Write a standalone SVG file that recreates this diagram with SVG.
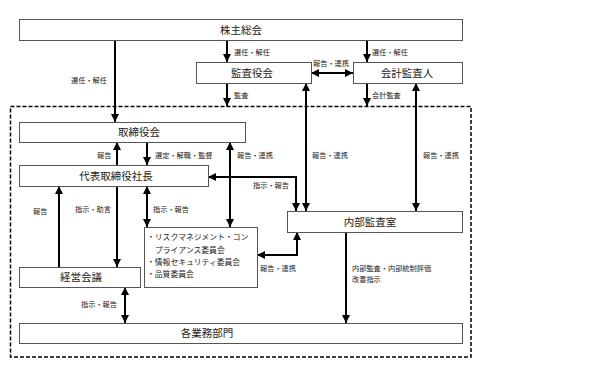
<svg xmlns="http://www.w3.org/2000/svg" width="598" height="366" viewBox="0 0 598 366">
<style>
.box{fill:#fff;stroke:#555;stroke-width:1}
.t{font-family:"Noto Sans CJK JP","Noto Sans",sans-serif;font-size:10.5px;fill:#222;text-anchor:middle}
.l{font-family:"Noto Sans CJK JP","Noto Sans",sans-serif;font-size:7.2px;fill:#222}
.c{font-family:"Noto Sans CJK JP","Noto Sans",sans-serif;font-size:7.8px;fill:#222}
.a{fill:none;stroke:#000;stroke-width:2;marker-end:url(#ah)}
.b{fill:none;stroke:#000;stroke-width:2;marker-end:url(#ah);marker-start:url(#ah)}
</style>
<defs>
<marker id="ah" viewBox="0 0 8 8" refX="8" refY="4" markerWidth="8" markerHeight="8" markerUnits="userSpaceOnUse" orient="auto-start-reverse">
<path d="M0,0 L8,4 L0,8 z" fill="#000"/>
</marker>
</defs>
<rect width="598" height="366" fill="#fff"/>
<rect x="10.5" y="106.5" width="460.5" height="250.5" fill="none" stroke="#000" stroke-width="1.5" stroke-dasharray="4 2"/>
<g id="connectors">
<path class="a" d="M115,40 V122"/>
<path class="a" d="M227,40 V62"/>
<path class="a" d="M367,40 V62"/>
<path class="b" d="M311,73 H353"/>
<path class="a" d="M227,83 V106"/>
<path class="a" d="M367,83 V106"/>
<path class="a" d="M117,165 V142"/>
<path class="a" d="M147,142 V165"/>
<path class="b" d="M230,142 V227"/>
<path class="b" d="M306,83 V211"/>
<path class="b" d="M416,83 V211"/>
<path class="b" d="M208,177 H296 V211"/>
<path class="b" d="M147,186 V227"/>
<path class="a" d="M59,267 V186"/>
<path class="a" d="M117,186 V267"/>
<path class="b" d="M125,287 V323"/>
<path class="b" d="M297,232 V255 H257"/>
<path class="a" d="M346,232 V323"/>
<text class="l" x="71" y="83">選任・解任</text>
<text class="l" x="234" y="55">選任・解任</text>
<text class="l" x="372" y="55">選任・解任</text>
<text class="l" x="313" y="66">報告・連携</text>
<text class="l" x="234" y="98">監査</text>
<text class="l" x="372" y="98">会計監査</text>
<text class="l" x="97" y="158">報告</text>
<text class="l" x="155" y="158">選定・解職・監督</text>
<text class="l" x="237" y="158">報告・連携</text>
<text class="l" x="312" y="158">報告・連携</text>
<text class="l" x="423" y="158">報告・連携</text>
<text class="l" x="253" y="188">指示・報告</text>
<text class="l" x="153" y="212">指示・報告</text>
<text class="l" x="33" y="214">報告</text>
<text class="l" x="75" y="212">指示・助言</text>
<text class="l" x="81" y="307">指示・報告</text>
<text class="l" x="260" y="271">報告・連携</text>
<text class="l" x="352" y="271">内部監査・内部統制評価</text>
<text class="l" x="352" y="282">改善指示</text>
</g>
<g id="kabunushi"><rect class="box" x="19.5" y="19.5" width="443" height="21"/><text class="t" x="241" y="34">株主総会</text></g>
<g id="kansayaku"><rect class="box" x="196.5" y="62.5" width="115" height="21"/><text class="t" x="252" y="77">監査役会</text></g>
<g id="kaikei"><rect class="box" x="353.5" y="62.5" width="109" height="21"/><text class="t" x="407" y="77">会計監査人</text></g>
<g id="torishimariyaku"><rect class="box" x="19.5" y="122.5" width="226" height="20"/><text class="t" x="139" y="136">取締役会</text></g>
<g id="daihyo"><rect class="box" x="19.5" y="165.5" width="189" height="21"/><text class="t" x="116" y="180">代表取締役社長</text></g>
<g id="naibu"><rect class="box" x="287.5" y="211.5" width="175" height="21"/><text class="t" x="370" y="226">内部監査室</text></g>
<g id="iinkai"><rect class="box" x="144.5" y="227.5" width="113" height="60"/>
<text class="c" x="147" y="240">・リスクマネジメント・コン</text>
<text class="c" x="155" y="253">プライアンス委員会</text>
<text class="c" x="147" y="265">・情報セキュリティ委員会</text>
<text class="c" x="147" y="277">・品質委員会</text></g>
<g id="keiei"><rect class="box" x="19.5" y="267.5" width="121" height="20"/><text class="t" x="81" y="281">経営会議</text></g>
<g id="kakugyomu"><rect class="box" x="19.5" y="323.5" width="443" height="20"/><text class="t" x="207" y="337">各業務部門</text></g>
</svg>
